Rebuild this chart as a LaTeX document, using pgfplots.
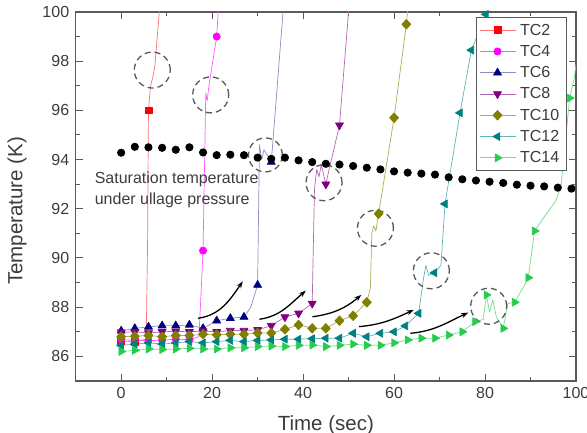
\documentclass[border=0pt]{standalone}
\usepackage{fontspec}
\setmainfont{Liberation Sans}
\usepackage{pgfplots}
\pgfplotsset{compat=1.18}
\usetikzlibrary{arrows.meta,calc}
\definecolor{cred}{RGB}{255,0,0}
\definecolor{cmag}{RGB}{255,0,255}
\definecolor{cnavy}{RGB}{0,0,128}
\definecolor{cpur}{RGB}{128,0,128}
\definecolor{coli}{RGB}{128,128,0}
\definecolor{cteal}{RGB}{0,128,128}
\definecolor{cgreen}{RGB}{38,204,77}
\definecolor{axgray}{RGB}{90,90,90}
\definecolor{labgray}{RGB}{60,60,60}
\begin{document}
\begin{tikzpicture}
\begin{axis}[
  scale only axis, width=500.3pt, height=369pt,
  xmin=-10, xmax=100, ymin=85, ymax=100,
  xtick={0,20,40,60,80,100}, ytick={86,88,90,92,94,96,98,100},
  minor x tick num=1, minor y tick num=1,
  tick align=inside,
  major tick length=7pt, minor tick length=4pt,
  every tick/.style={line width=1pt, draw=axgray},
  axis line style={line width=1.3pt, draw=axgray},
  ticklabel style={font=\fontsize{16}{19}\selectfont, text=labgray},
  /pgf/number format/assume math mode=true,
  yticklabel style={xshift=-3pt},
  xticklabel style={yshift=-3pt},
  xlabel={Time (sec)}, ylabel={Temperature (K)},
  label style={font=\fontsize{20.5}{24}\selectfont, text=labgray},
  xlabel style={at={(axis description cs:0.5,-0.1355)}, anchor=base},
  ylabel style={at={(axis description cs:-0.117,0.461)}, anchor=center},
  legend style={at={(0.982,0.986)}, anchor=north east, draw=axgray, line width=0.8pt,
    font=\fontsize{16}{19}\selectfont, text=labgray, nodes={inner sep=4.3pt}, row sep=0pt},
  legend cell align=left,
  legend image code/.code={\draw[mark indices={2}] plot coordinates {(0pt,0pt) (18pt,0pt) (36pt,0pt)};},
  every axis plot/.append style={line width=0.7pt, line join=round},
]
% TC2
\addplot[color=cred!55, mark=square*, mark size=3.4pt, mark options={fill=cred, draw=cred, solid},
  mark indices={1,2,5}] coordinates {
(0,86.62) (3,86.6) (5.5,86.7) (5.8,90.5) (6,96) (6.4,96.9) (6.6,97.1) (6.9,97.3) (7.4,97.8) (8.6,100.5)};
\addlegendentry{TC2}
% TC4
\addplot[color=cmag!65, mark=*, mark size=3.6pt, mark options={fill=cmag, draw=cmag, solid},
  mark indices={1,2,3,4,5,6,8,12}] coordinates {
(0,86.68) (3,86.66) (6,86.64) (9,86.66) (12,86.7) (15,86.68) (17.1,86.8) (18,90.3) (18.6,96.7) (18.9,96.4) (19.3,97.0) (21,99) (21.5,100.5)};
\addlegendentry{TC4}
% TC6
\addplot[color=cnavy!45, mark=triangle*, mark size=4.6pt, mark options={fill=cnavy, draw=cnavy, solid},
  mark indices={1,2,3,4,5,6,7,8,9,10,12,16}] coordinates {
(0,87.04) (3,87.14) (6,87.2) (9,87.25) (12,87.25) (15,87.28) (18,87.14) (21,87.45) (24,87.55) (27,87.6) (28.5,88.0) (30,88.9) (30.4,94.6) (30.9,94.0) (31.4,94.4) (33,93.9) (35.8,100.5)};
\addlegendentry{TC6}
% TC8
\addplot[color=cpur!60, mark=triangle*, mark size=4.6pt, mark options={fill=cpur, draw=cpur, solid, rotate=180},
  mark indices={1,2,3,4,5,6,7,8,9,10,11,12,13,14,15,20,22}] coordinates {
(0,86.98) (3,87.0) (6,86.95) (9,87.0) (12,87.02) (15,87.0) (18,87.03) (21,87.0) (24,87.05) (27,87.05) (30,87.08) (33,87.25) (36,87.6) (39,87.75) (42,88.15) (42.5,92.8) (43,93.6) (43.5,93.3) (44,93.8) (45,93.0) (45.6,93.5) (48,95.4) (50.2,100.5)};
\addlegendentry{TC8}
% TC10
\addplot[color=coli!65, mark=diamond*, mark size=4.8pt, mark options={fill=coli, draw=coli, solid, xscale=1.25},
  mark indices={1,2,3,4,5,6,7,8,9,10,11,12,13,14,15,16,17,18,19,24,25,26}] coordinates {
(0,86.8) (3,86.82) (6,86.85) (9,86.8) (12,86.85) (15,86.85) (18,86.9) (21,86.88) (24,86.9) (27,86.9) (30,86.95) (33,86.95) (36,87.1) (39,87.28) (42,87.14) (45,87.14) (48,87.45) (51,87.65) (54,88.2) (54.8,88.8) (55.1,91.0) (55.5,91.3) (56,91.1) (56.6,91.8) (60,95.7) (62.7,99.5) (63.2,100.5)};
\addlegendentry{TC10}
% TC12
\addplot[color=cteal!60, mark=triangle*, mark size=4.6pt, mark options={fill=cteal, draw=cteal, solid, rotate=90},
  mark indices={1,2,3,4,5,6,7,8,9,10,11,12,13,14,15,16,17,18,19,20,21,22,23,27,29,30,31,32}] coordinates {
(0,86.45) (3,86.5) (6,86.55) (9,86.5) (12,86.55) (15,86.6) (18,86.55) (21,86.6) (24,86.65) (27,86.6) (30,86.65) (33,86.67) (36,86.7) (39,86.7) (42,86.72) (45,86.74) (48,86.74) (51,86.94) (54,86.8) (57,86.94) (60,87.0) (62.5,87.24) (65.4,87.75) (66.5,89.2) (67,89.7) (67.6,89.3) (68.9,89.4) (70.3,89.7) (71.2,92.2) (74.5,95.9) (77,98.45) (80.2,99.9) (80.6,100.5)};
\addlegendentry{TC12}
% TC14
\addplot[color=cgreen!65, mark=triangle*, mark size=4.6pt, mark options={fill=cgreen, draw=cgreen, solid, rotate=-90},
  mark indices={1,2,3,4,5,6,7,8,9,10,11,12,13,14,15,16,17,18,19,20,21,22,23,24,25,26,27,29,33,35,37,38,42}] coordinates {
(0,86.2) (3,86.25) (6,86.3) (9,86.28) (12,86.3) (15,86.33) (18,86.3) (21,86.3) (24,86.35) (27,86.35) (30,86.4) (33,86.42) (36,86.4) (39,86.45) (42,86.46) (45,86.4) (48,86.45) (51,86.5) (54,86.45) (57,86.45) (60,86.55) (63,86.67) (66,86.74) (69,86.74) (72,86.87) (75,87.0) (77.8,87.41) (79.6,87.5) (80.3,88.5) (81,87.8) (81.7,88.3) (82.5,87.6) (84,87.14) (85,88.15) (86.5,88.2) (88.7,88.9) (89.5,89.2) (90.9,91.1) (93.5,91.8) (95.5,92.3) (96.7,92.9) (98.6,96.5) (99.6,97.3) (100.4,98.4)};
\addlegendentry{TC14}
% Saturation temperature
\addplot[only marks, mark=*, mark size=3.7pt, mark options={fill=black, draw=black}, forget plot] coordinates {
(0,94.28) (3,94.52) (6,94.5) (9,94.48) (12,94.4) (15,94.5) (18,94.29) (21,94.18) (24,94.2) (27,94.18) (30,94.08) (33,94.03) (36,94.08) (39,93.97) (42,93.9) (45,93.83) (48,93.8) (51,93.74) (54,93.67) (57,93.6) (60,93.52) (63,93.47) (66,93.43) (69,93.39) (72,93.28) (75,93.2) (78,93.15) (81,93.1) (84,93.05) (87,92.98) (90,92.94) (93,92.91) (96,92.86) (99,92.82)};
% dashed circles
\begin{scope}[draw=black!65, line width=1.3pt, dash pattern=on 6pt off 4pt]
\draw (axis cs:6.84,97.64) circle[radius=18pt];
\draw (axis cs:19.68,96.63) circle[radius=18pt];
\draw (axis cs:31.7,94.19) circle[radius=17pt];
\draw (axis cs:44.6,93.06) circle[radius=18pt];
\draw (axis cs:55.9,91.21) circle[radius=18pt];
\draw (axis cs:68.2,89.48) circle[radius=18pt];
\draw (axis cs:80.8,88.04) circle[radius=18pt];
\end{scope}
% arrows
\begin{scope}[black, line width=1.3pt, -{Stealth[length=7pt,width=5pt]}]
\draw (axis cs:16.9,87.55) to[out=8,in=235] (axis cs:26.75,89.05);
\draw (axis cs:30.4,87.51) to[out=8,in=220] (axis cs:40.6,88.67);
\draw (axis cs:42.05,87.61) to[out=8,in=220] (axis cs:52.8,88.5);
\draw (axis cs:52.3,87.21) to[out=5,in=205] (axis cs:64.3,87.89);
\draw (axis cs:63.6,86.94) to[out=5,in=205] (axis cs:76.3,87.78);
\end{scope}
\node[anchor=north west, inner sep=0pt, align=left, text=labgray, font=\fontsize{16}{21}\selectfont]
  at (axis cs:-5.84,93.51) {Saturation temperature\\under ullage pressure};
\end{axis}
\pgfresetboundingbox
\useasboundingbox ($(current axis.south west)+(-75.7pt,-52pt)$) rectangle ($(current axis.north east)+(11pt,12pt)$);
\end{tikzpicture}
\end{document}
